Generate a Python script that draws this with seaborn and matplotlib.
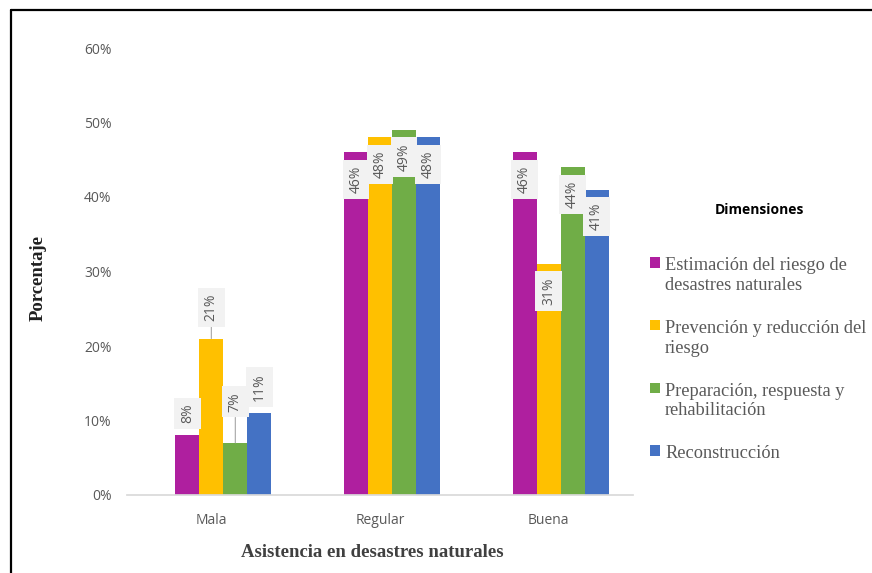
import numpy as np
import pandas as pd
import matplotlib.pyplot as plt
import seaborn as sns
from matplotlib.lines import Line2D
from matplotlib.colors import to_hex

# datos
categorias = ["Mala", "Regular", "Buena"]
dimensiones = ["Estimación del riesgo de\ndesastres naturales",
               "Prevención y reducción del\nriesgo",
               "Preparación, respuesta y\nrehabilitación",
               "Reconstrucción"]
estimacion = [8, 46, 46]
prevencion = [21, 48, 31]
preparacion = [7, 49, 44]
reconstruccion = [11, 48, 41]
colores = ["#af1f9f", "#ffc000", "#70ad47", "#4472c4"]

series = [estimacion, prevencion, preparacion, reconstruccion]
df = pd.DataFrame({
    "categoria": [c for s in series for c in categorias],
    "dimension": [d for d, s in zip(dimensiones, series) for _ in s],
    "valor": [v for s in series for v in s],
})

sns.set_theme(style="white")
gris = "#595959"

fig = plt.figure(figsize=(8.72, 5.73), dpi=100)
ax = fig.add_axes([127/872, 1-495/573, 506/872, 447/573])
# serie vacia al inicio: en el original las barras quedan corridas media barra
sns.barplot(data=df, x="categoria", y="valor", hue="dimension", order=categorias,
            hue_order=[" "] + dimensiones, palette=["white"] + colores,
            saturation=1, width=0.711, linewidth=0, ax=ax)

ax.set_xlim(-0.5, 2.5)
ax.set_ylim(0, 60)
ax.set_yticks(range(0, 61, 10))
ax.set_yticklabels([f"{t}%" for t in range(0, 61, 10)])
ax.tick_params(axis="y", length=0, pad=11, labelsize=10, labelcolor=gris)
ax.tick_params(axis="x", length=0, pad=13, labelsize=10, labelcolor=gris)
for lab in ax.get_xticklabels() + ax.get_yticklabels():
    lab.set_family("Open Sans")
for s in ["left", "right", "top"]:
    ax.spines[s].set_visible(False)
ax.spines["bottom"].set_color("#D9D9D9")

ax.set_xlabel("Asistencia en desastres naturales", family="Liberation Serif",
              weight="bold", size=13.5, color="#404040")
ax.set_ylabel("Porcentaje", family="Liberation Serif", weight="bold", size=13.5,
              color="#202020")
ax.xaxis.set_label_coords(0.485, -0.11)
ax.yaxis.set_label_coords(-0.158, 0.485)

# etiquetas de datos (desplazamiento en pixeles)
desp_mala = [22, 31, 41, 26]
for bar in ax.patches:
    color = to_hex(bar.get_facecolor())
    if color not in colores or bar.get_height() == 0:
        continue
    i = colores.index(color)
    h = bar.get_height()
    x = bar.get_x() + bar.get_width() / 2
    j = int(round(x))
    dy = desp_mala[i] if categorias[j] == "Mala" else -27
    flecha = dict(arrowstyle="-", color="#A6A6A6", lw=0.8,
                  shrinkA=0, shrinkB=0) if dy > 28 else None
    ax.annotate(f"{series[i][j]}%", xy=(x, h), xytext=(0, dy),
                textcoords="offset pixels", rotation=90, ha="center",
                va="center", fontsize=10, color=gris, family="Open Sans",
                bbox=dict(boxstyle="square,pad=0.42", fc="#F2F2F2", ec="none"),
                arrowprops=flecha)

handles, labels = ax.get_legend_handles_labels()
pares = [(h, l) for h, l in zip(handles, labels) if l in dimensiones]
ax.get_legend().remove()
fig.text(759/872, 1-210/573, "Dimensiones", ha="center", va="center",
         family="Open Sans", weight="bold", size=10, color="black")
leg = fig.legend([p[0] for p in pares], [p[1] for p in pares], loc="upper left",
                 bbox_to_anchor=(643/872, 1-250/573), frameon=False,
                 prop={"family": "Liberation Serif", "size": 13.2},
                 labelcolor=gris, handlelength=0.5, handleheight=0.5,
                 handletextpad=0.3, labelspacing=1.42, borderaxespad=0)
for col in leg._legend_handle_box.get_children():
    for hp in col.get_children():
        hp.align = "top"

# marco del grafico
fig.add_artist(Line2D([11/872, 11/872], [0, 1-10/573], color="black", lw=1.6,
                      transform=fig.transFigure))
fig.add_artist(Line2D([11/872, 1], [1-10/573, 1-10/573], color="black", lw=1.6,
                      transform=fig.transFigure))

fig.savefig("out.png", dpi=100)
